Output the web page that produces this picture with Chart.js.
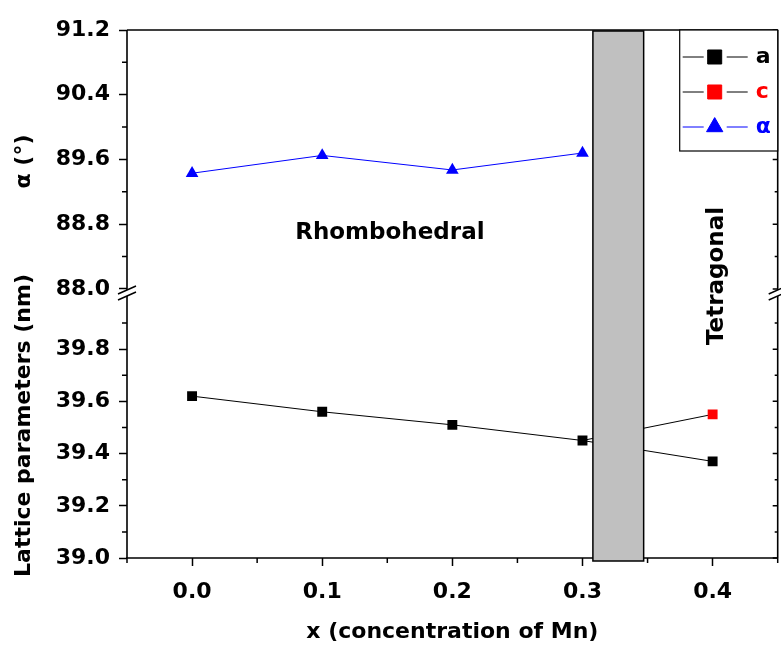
<!DOCTYPE html>
<html>
<head>
<meta charset="utf-8">
<script src="https://cdn.jsdelivr.net/npm/chart.js@4.4.1/dist/chart.umd.min.js"></script>
<style>
  html, body { margin: 0; padding: 0; background: #fff; overflow: hidden; }
  #wrap { width: 785px; height: 646px; position: relative; }
</style>
</head>
<body>
<div id="wrap"><canvas id="latticeChart"></canvas></div>
<script>
const xValues = [0.0, 0.1, 0.2, 0.3, 0.4];
const aValues = [39.62, 39.56, 39.51, 39.45, 39.37];
const cValues = [null, null, null, 39.45, 39.55];
const alphaValues = [89.43, 89.65, 89.47, 89.68, null];

const xMajorTicks = [0.0, 0.1, 0.2, 0.3, 0.4];
const xMinorTicks = [-0.05, 0.05, 0.15, 0.25, 0.35, 0.45];
const alphaMajorTicks = [88.0, 88.8, 89.6, 90.4, 91.2];
const alphaMinorTicks = [88.4, 89.2, 90.0, 90.8];
const latticeMajorTicks = [39.0, 39.2, 39.4, 39.6, 39.8];
const latticeMinorTicks = [39.1, 39.3, 39.5, 39.7, 39.9];

// two-phase region between rhombohedral and tetragonal
const phaseBand = [0.308, 0.347];

const FONT = '"DejaVu Sans", "Liberation Sans", sans-serif';
const tickFont = { family: FONT, size: 22, weight: 'bold' };

const toPoints = vals => xValues.map((x, i) => ({ x: x, y: vals[i] }));

function majorAxis(ticks) {
  return s => { s.ticks = ticks.map(v => ({ value: v })); };
}

const gridOpts = {
  display: true,
  drawOnChartArea: false,
  drawTicks: true,
  tickLength: 8,
  tickWidth: 1.5,
  tickColor: '#000'
};

// frame, minor ticks, axis break, phase band, legend and labels
const decorations = {
  id: 'decorations',
  afterDraw(chart) {
    const { ctx, chartArea: ca, scales } = chart;
    const xs = scales.x, ya = scales.yAlpha, yl = scales.yLat;
    const breakY = ya.bottom;

    ctx.save();
    ctx.strokeStyle = '#000';
    ctx.lineWidth = 1.6;

    // frame
    ctx.beginPath();
    ctx.moveTo(ca.left, ca.top); ctx.lineTo(ca.right, ca.top);
    ctx.moveTo(ca.left, ca.top); ctx.lineTo(ca.left, ca.bottom);
    ctx.moveTo(ca.right, ca.top); ctx.lineTo(ca.right, ca.bottom);
    ctx.moveTo(ca.left - 1, ca.bottom); ctx.lineTo(ca.right, ca.bottom);
    ctx.stroke();

    // minor ticks (outside) + mirrored ticks on right (inside)
    ctx.lineWidth = 1.5;
    ctx.beginPath();
    xMinorTicks.forEach(v => {
      const px = xs.getPixelForValue(v);
      ctx.moveTo(px, ca.bottom); ctx.lineTo(px, ca.bottom + 5);
    });
    [[ya, alphaMinorTicks, 5], [yl, latticeMinorTicks, 5], [ya, alphaMajorTicks, 0], [yl, latticeMajorTicks, 0]].forEach(([sc, arr, len]) => {
      arr.forEach(v => {
        const py = sc.getPixelForValue(v);
        if (len) { ctx.moveTo(ca.left - len, py); ctx.lineTo(ca.left, py); }
        ctx.moveTo(ca.right - (len ? 3 : 5), py); ctx.lineTo(ca.right, py);
      });
    });
    ctx.stroke();

    // axis break marks
    [ca.left, ca.right].forEach(ax => {
      ctx.fillStyle = '#fff';
      ctx.fillRect(ax - 2, breakY - 3, 4, 6);
      ctx.beginPath();
      ctx.moveTo(ax - 9, breakY + 1); ctx.lineTo(ax + 9, breakY - 7);
      ctx.moveTo(ax - 9, breakY + 7); ctx.lineTo(ax + 9, breakY - 1);
      ctx.stroke();
    });

    // phase band
    const b0 = xs.getPixelForValue(phaseBand[0]);
    const b1 = xs.getPixelForValue(phaseBand[1]);
    ctx.fillStyle = '#c0c0c0';
    ctx.fillRect(b0, ca.top + 1, b1 - b0, ca.bottom + 3 - ca.top - 1);
    ctx.lineWidth = 1.5;
    ctx.strokeRect(b0, ca.top + 1, b1 - b0, ca.bottom + 3 - ca.top - 1);

    // legend
    const lw = 98, lh = 121;
    const lx = ca.right - lw, ly = ca.top;
    ctx.fillStyle = '#fff';
    ctx.fillRect(lx, ly, lw, lh);
    ctx.lineWidth = 1.2;
    ctx.strokeRect(lx, ly, lw, lh);
    ctx.font = 'bold 22px ' + FONT;
    ctx.textAlign = 'left';
    ctx.textBaseline = 'middle';
    chart.data.datasets.forEach((ds, i) => {
      const ry = ly + 27 + i * 35;
      ctx.strokeStyle = ds.borderColor;
      ctx.lineWidth = 1;
      ctx.beginPath();
      ctx.moveTo(lx + 3, ry); ctx.lineTo(lx + 24, ry);
      ctx.moveTo(lx + 47, ry); ctx.lineTo(lx + 68, ry);
      ctx.stroke();
      ctx.fillStyle = ds.pointBackgroundColor;
      ctx.strokeStyle = ds.pointBackgroundColor;
      Chart.helpers.drawPoint(ctx, {
        pointStyle: ds.pointStyle,
        radius: ds.pointStyle === 'triangle' ? 9.4 : 9.9,
        rotation: 0,
        borderWidth: 1
      }, lx + 35, ry);
      ctx.fillStyle = ds.labelColor;
      ctx.fillText(ds.label, lx + 76, ry);
    });

    // phase labels
    ctx.fillStyle = '#000';
    ctx.font = 'bold 23px ' + FONT;
    ctx.textAlign = 'center';
    ctx.textBaseline = 'middle';
    ctx.fillText('Rhombohedral', xs.getPixelForValue(0.152), ya.getPixelForValue(88.69));
    ctx.save();
    ctx.translate(xs.getPixelForValue(0.403), breakY - 17);
    ctx.rotate(-Math.PI / 2);
    ctx.fillText('Tetragonal', 0, 0);
    ctx.restore();

    // y axis titles
    ctx.font = 'bold 22px ' + FONT;
    [[ya, 'α (°)'], [yl, 'Lattice parameters (nm)']].forEach(([sc, txt]) => {
      ctx.save();
      ctx.translate(24, (sc.top + sc.bottom) / 2);
      ctx.rotate(-Math.PI / 2);
      ctx.fillText(txt, 0, 0);
      ctx.restore();
    });
    ctx.restore();
  }
};

const ctx = document.getElementById('latticeChart').getContext('2d');

const latticeChart = new Chart(ctx, {
  type: 'line',
  data: {
    datasets: [
      {
        label: 'a',
        data: toPoints(aValues),
        yAxisID: 'yLat',
        borderColor: '#000',
        borderWidth: 1,
        pointStyle: 'rect',
        pointRadius: 7,
        pointBackgroundColor: '#000',
        pointBorderColor: '#000',
        pointBorderWidth: 0,
        labelColor: '#000'
      },
      {
        label: 'c',
        data: toPoints(cValues),
        yAxisID: 'yLat',
        borderColor: '#000',
        borderWidth: 1,
        pointStyle: 'rect',
        pointRadius: c => (c.dataIndex === 3 ? 0 : 7),
        pointBackgroundColor: '#ff0000',
        pointBorderColor: '#ff0000',
        pointBorderWidth: 0,
        labelColor: '#ff0000'
      },
      {
        label: 'α',
        data: toPoints(alphaValues),
        yAxisID: 'yAlpha',
        borderColor: '#0000ff',
        borderWidth: 1,
        pointStyle: 'triangle',
        pointRadius: 7.3,
        pointBackgroundColor: '#0000ff',
        pointBorderColor: '#0000ff',
        pointBorderWidth: 0,
        labelColor: '#0000ff'
      }
    ]
  },
  options: {
    responsive: true,
    maintainAspectRatio: false,
    animation: false,
    spanGaps: false,
    layout: { padding: { left: 0, right: 0, top: 30, bottom: 0 } },
    plugins: {
      legend: { display: false },
      tooltip: { enabled: false }
    },
    scales: {
      x: {
        type: 'linear',
        min: -0.05,
        max: 0.45,
        afterBuildTicks: majorAxis(xMajorTicks),
        afterFit: s => { s.height = 88; },
        grid: gridOpts,
        border: { display: false },
        ticks: {
          font: tickFont,
          color: '#000',
          padding: 13,
          autoSkip: false,
          maxRotation: 0,
          callback: v => v.toFixed(1)
        },
        title: {
          display: true,
          text: 'x (concentration of Mn)',
          color: '#000',
          font: tickFont,
          padding: { top: 0, bottom: 1 }
        }
      },
      yLat: {
        type: 'linear',
        position: 'left',
        stack: 'y',
        stackWeight: 265,
        min: 39.0,
        max: 40.015,
        afterBuildTicks: majorAxis(latticeMajorTicks),
        afterFit: s => { s.width = 127; },
        grid: gridOpts,
        border: { display: false },
        ticks: {
          font: tickFont,
          color: '#000',
          padding: 9,
          autoSkip: false,
          callback: v => v.toFixed(1)
        }
      },
      yAlpha: {
        type: 'linear',
        position: 'left',
        stack: 'y',
        stackWeight: 263,
        min: 87.95,
        max: 91.2,
        afterBuildTicks: majorAxis(alphaMajorTicks),
        afterFit: s => { s.width = 127; },
        grid: gridOpts,
        border: { display: false },
        ticks: {
          font: tickFont,
          color: '#000',
          padding: 9,
          autoSkip: false,
          callback: v => v.toFixed(1)
        }
      }
    }
  },
  plugins: [decorations]
});
</script>
</body>
</html>
